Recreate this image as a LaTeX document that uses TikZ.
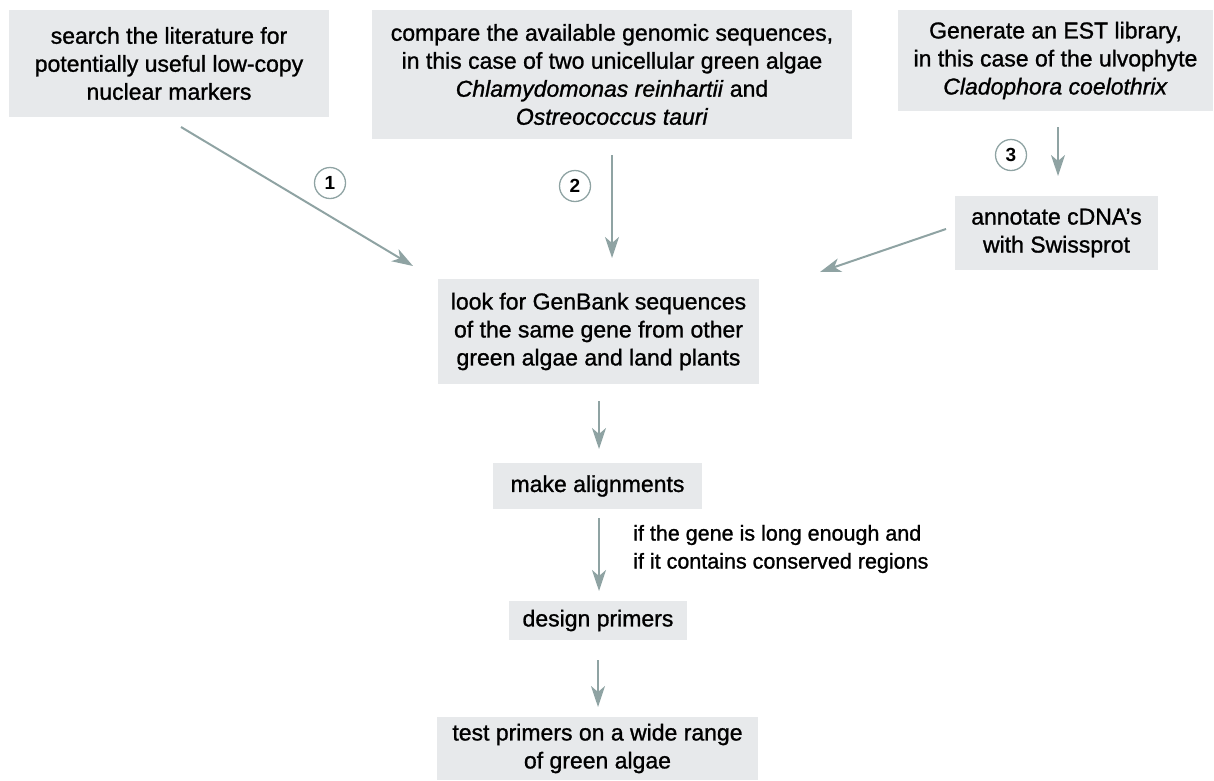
\documentclass[tikz,border=0pt]{standalone}
\usepackage{fontspec}
\setmainfont{Liberation Sans}
\newfontfamily\boldish{Liberation Sans}[FakeBold=1.1,ItalicFont=Liberation Sans Italic,ItalicFeatures={FakeBold=1.1}]
\usetikzlibrary{arrows.meta}
\definecolor{boxfill}{HTML}{E7E9EB}
\definecolor{arrowgray}{HTML}{8FA3A3}
\begin{document}
\begin{tikzpicture}[x=1pt,y=-1pt,
  stepbox/.style={fill=boxfill,draw=none,align=center,inner sep=0pt,
    font=\boldish\fontsize{23}{28}\selectfont},
  flow/.style={draw=arrowgray,line width=2pt,
    -{Stealth[length=21pt,width=14pt,inset=6pt]}},
  numcirc/.style={circle,draw=arrowgray,line width=1.3pt,minimum size=31pt,
    inner sep=0pt,font=\fontsize{19}{19}\selectfont\bfseries},
  note/.style={align=left,inner sep=0pt,anchor=west,
    font=\boldish\fontsize{21.5}{28}\selectfont}]
\useasboundingbox (0,0) rectangle (1214,780);

\node[stepbox,minimum width=320pt,minimum height=107pt] (A) at (169,63.5)
  {search the literature for\\potentially useful low-copy\\nuclear markers};
\node[stepbox,minimum width=480pt,minimum height=129pt] (B) at (612,74.5)
  {compare the available genomic sequences,\\in this case of two unicellular green algae\\\textit{Chlamydomonas reinhartii} and\\\textit{Ostreococcus tauri}};
\node[stepbox,minimum width=315pt,minimum height=101pt] (C) at (1055.5,60.5)
  {Generate an EST library,\\in this case of the ulvophyte\\\textit{Cladophora coelothrix}};
\node[stepbox,minimum width=203pt,minimum height=74pt] (D) at (1056.5,233)
  {annotate cDNA’s\\with Swissprot};
\node[stepbox,minimum width=321pt,minimum height=105pt] (E) at (598.5,331.5)
  {look for GenBank sequences\\of the same gene from other\\green algae and land plants};
\node[stepbox,minimum width=209pt,minimum height=46pt] (F) at (597.5,486)
  {make alignments};
\node[stepbox,minimum width=178pt,minimum height=39pt] (G) at (598,620.5)
  {design primers};
\node[stepbox,minimum width=321pt,minimum height=63pt] (H) at (597.5,748.5)
  {test primers on a wide range\\of green algae};

\coordinate (a1s) at (181,127);
\coordinate (a1e) at (413,266);
\coordinate (a2s) at (612,155);
\coordinate (a2e) at (612,258);
\coordinate (a3s) at (1058,127);
\coordinate (a3e) at (1058,176);
\coordinate (a4s) at (946,229);
\coordinate (a4e) at (820,272);
\coordinate (a5s) at (599,401);
\coordinate (a5e) at (599,449);
\coordinate (a6s) at (599,518);
\coordinate (a6e) at (599,591);
\coordinate (a7s) at (598,660);
\coordinate (a7e) at (598,707);

\draw[flow] (a1s) -- (a1e);
\draw[flow] (a2s) -- (a2e);
\draw[flow] (a3s) -- (a3e);
\draw[flow] (a4s) -- (a4e);
\draw[flow] (a5s) -- (a5e);
\draw[flow] (a6s) -- (a6e);
\draw[flow] (a7s) -- (a7e);

\node[numcirc] (n1) at (330,183) {1};
\node[numcirc] (n2) at (575,186) {2};
\node[numcirc] (n3) at (1011,155) {3};

\node[note] (cond) at (633,549)
  {if the gene is long enough and\\if it contains conserved regions};
\end{tikzpicture}
\end{document}
